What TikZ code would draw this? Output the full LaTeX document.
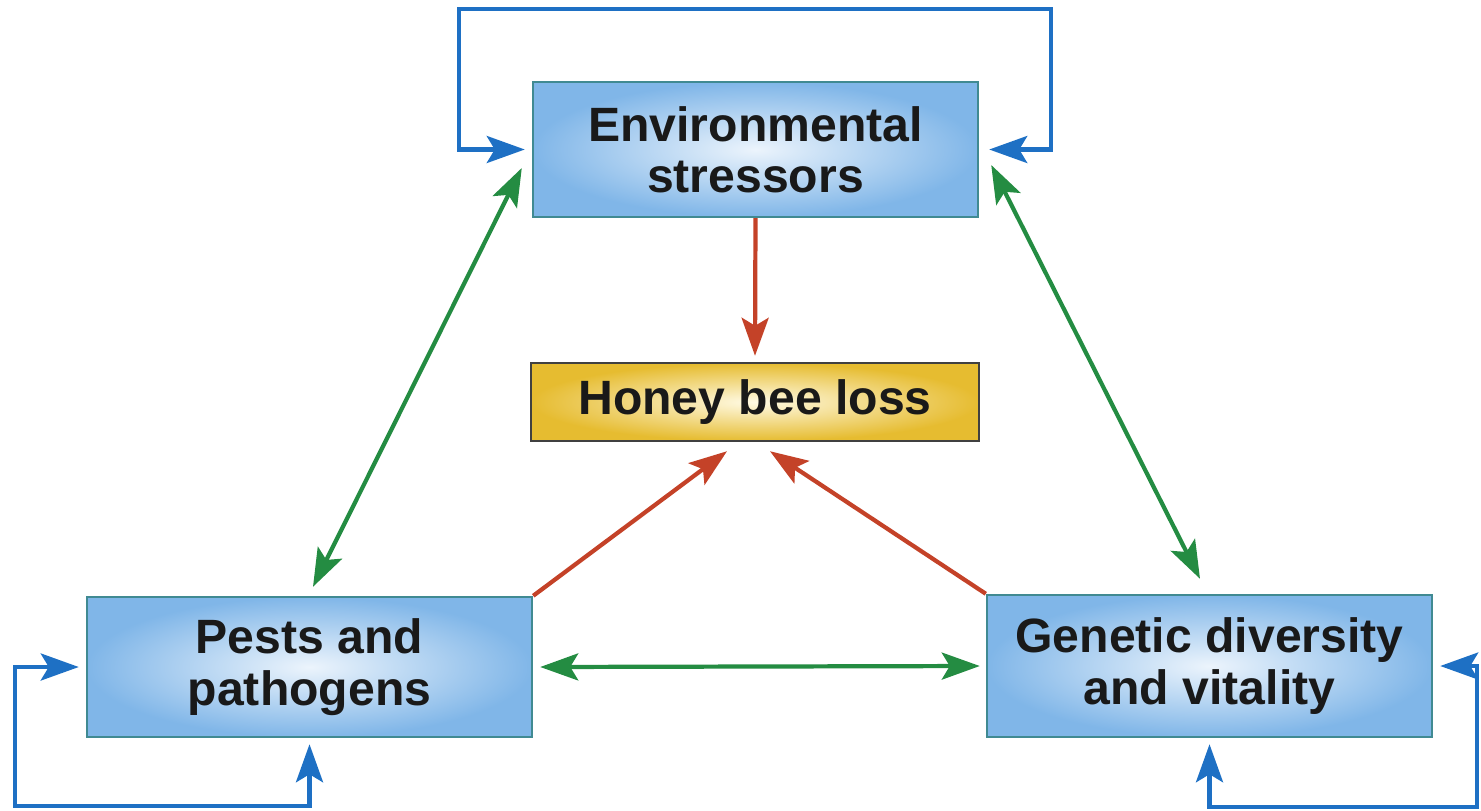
\documentclass[tikz,border=0pt]{standalone}
\usepackage{fontspec}
\setmainfont{Liberation Sans}
\usepackage{xcolor}
\usetikzlibrary{arrows.meta, positioning, calc}

\definecolor{boxblue}{RGB}{128,182,232}
\definecolor{boxcore}{RGB}{236,244,252}
\definecolor{boxedge}{RGB}{64,138,146}
\definecolor{beegold}{RGB}{230,188,48}
\definecolor{beecore}{RGB}{255,250,228}
\definecolor{loopblue}{RGB}{30,112,196}
\definecolor{linkgreen}{RGB}{36,140,66}
\definecolor{causered}{RGB}{196,66,40}

\begin{document}
\begin{tikzpicture}[
  pointer/.tip={Stealth[length=0.38cm, width=0.27cm, inset=0.08cm]},
  box/.style={rectangle, draw=boxedge, line width=0.7pt, inner color=boxcore, outer color=boxblue,
              minimum width=4.45cm, minimum height=1.38cm, align=center, inner sep=0pt,
              font=\fontsize{13.7}{14.6}\selectfont\bfseries, text=black!90},
  goal/.style={box, draw=black!75, inner color=beecore, outer color=beegold,
               minimum width=4.48cm, minimum height=0.78cm},
  feedback/.style={pointer-pointer, line width=1.2pt, draw=loopblue},
  link/.style={pointer-pointer, line width=1.2pt, draw=linkgreen},
  cause/.style={-pointer, line width=1.2pt, draw=causered},
]
  \useasboundingbox (0,0) rectangle (14.81,8.10);

  \node[box, minimum height=1.35cm] (env) at (7.555,6.605) {Environmental\\stressors};
  \node[goal] (loss) at (7.55,4.08) {Honey bee loss};
  \node[box, minimum height=1.40cm] (pests) at (3.095,1.43) {Pests and\\pathogens};
  \node[box, minimum height=1.42cm] (genes) at (12.095,1.44) {Genetic diversity\\and vitality};

  \draw[feedback] ([xshift=-0.07cm]env.west) -- ++(-0.66,0) |- ([yshift=0.72cm]env.north)
    -| ([xshift=0.72cm]env.east) -- ([xshift=0.1cm]env.east);
  \draw[feedback] ([xshift=-0.07cm]pests.west) -- ++(-0.64,0) |- ([yshift=-0.68cm]pests.south)
    -- ([yshift=-0.06cm]pests.south);
  \draw[feedback] ([xshift=0.07cm]genes.east) -- ++(0.37,0) |- ([yshift=-0.69cm]genes.south)
    -- ([yshift=-0.06cm]genes.south);

  \draw[link] ([xshift=0.035cm, yshift=0.09cm]pests.north) -- ([xshift=-0.1cm, yshift=-0.185cm]env.west);
  \draw[link] ([xshift=0.12cm, yshift=-0.155cm]env.east) -- ([xshift=-0.095cm, yshift=0.15cm]genes.north);
  \draw[link] ([xshift=0.07cm]pests.east) -- ([xshift=-0.06cm]genes.west);

  \draw[cause] (env.south) -- ([yshift=0.06cm]loss.north);
  \draw[cause] (pests.north east) -- ([xshift=-0.28cm, yshift=-0.09cm]loss.south);
  \draw[cause] (genes.north west) -- ([xshift=0.15cm, yshift=-0.09cm]loss.south);
\end{tikzpicture}
\end{document}
